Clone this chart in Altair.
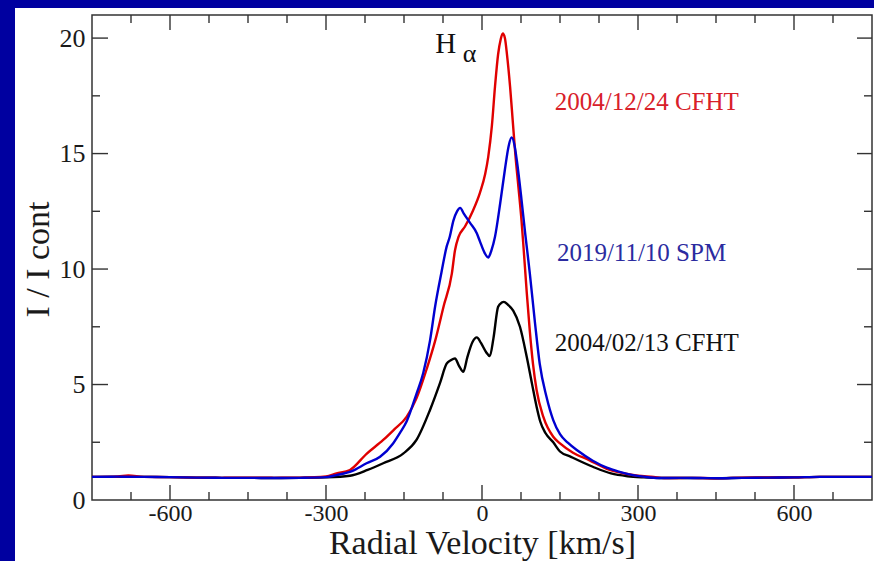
import altair as alt
import pandas as pd

# ---- data ----
red_v = [-750, -700, -680, -650, -600, -550, -500, -450, -400, -350, -300, -280, -254, -222, -190, -170, -145,
         -126, -106, -90, -74, -58, -52, -45, -33, -17, -4, 6, 12, 19, 25, 31, 36, 40, 44, 48, 54, 59, 64, 70,
         76, 80, 86, 92, 98, 105, 118, 137, 150, 175, 206, 240, 269, 300, 330, 350, 400, 450, 500, 550, 600,
         650, 700, 750]
red_i = [1.00, 1.02, 1.06, 1.00, 0.99, 0.97, 0.96, 0.97, 0.96, 0.97, 1.02, 1.15, 1.30, 2.00, 2.60, 3.03, 3.60,
         4.40, 5.70, 6.90, 8.37, 9.80, 10.80, 11.40, 11.83, 12.55, 13.30, 14.10, 14.86, 16.20, 17.90, 19.30,
         19.95, 20.20, 20.00, 19.30, 17.90, 16.45, 15.00, 13.56, 12.10, 10.90, 9.00, 7.30, 5.90, 4.76, 3.60,
         2.74, 2.45, 2.05, 1.73, 1.35, 1.17, 1.05, 1.00, 0.95, 0.96, 0.94, 0.97, 0.98, 0.98, 1.00, 1.00, 1.00]

blue_v = [-750, -700, -650, -600, -550, -500, -450, -400, -350, -300, -280, -250, -222, -196, -171, -158, -145,
          -126, -113, -100, -90, -78, -68, -62, -55, -48, -42, -35, -23, -10, -4, 5, 12, 18, 25, 35, 44, 51, 57,
          63, 67, 76, 83, 89, 92, 102, 111, 124, 137, 150, 165, 185, 213, 240, 263, 290, 311, 340, 380, 420,
          460, 500, 550, 600, 650, 700, 750]
blue_i = [1.00, 1.01, 1.00, 0.99, 0.97, 0.96, 0.96, 0.95, 0.96, 0.99, 1.08, 1.25, 1.59, 1.87, 2.45, 2.90, 3.40,
          4.60, 5.50, 6.90, 8.40, 9.85, 10.97, 11.40, 12.10, 12.50, 12.65, 12.40, 12.00, 11.55, 11.20, 10.70,
          10.50, 10.80, 11.40, 12.85, 14.30, 15.30, 15.70, 15.30, 14.70, 13.00, 11.55, 10.40, 9.80, 7.65, 5.90,
          4.47, 3.46, 2.85, 2.48, 2.12, 1.70, 1.40, 1.23, 1.08, 1.01, 0.95, 0.96, 0.95, 0.94, 0.96, 0.97, 0.98,
          1.00, 1.00, 1.00]

black_v = [-750, -700, -650, -600, -550, -500, -450, -400, -350, -300, -254, -220, -190, -151, -126, -100, -81,
           -68, -60, -52, -44, -36, -28, -18, -10, -2, 8, 15, 22, 31, 38, 42, 50, 60, 73, 86, 96, 105, 112,
           122, 137, 150, 171, 213, 248, 280, 310, 350, 400, 450, 500, 550, 600, 650, 700, 750]
black_i = [1.00, 1.00, 1.00, 0.99, 0.97, 0.96, 0.96, 0.95, 0.96, 0.98, 1.05, 1.30, 1.59, 2.02, 2.60, 3.90, 5.05,
           5.90, 6.05, 6.13, 5.80, 5.55, 6.20, 6.85, 7.04, 6.80, 6.40, 6.23, 7.00, 8.37, 8.55, 8.58, 8.45, 8.20,
           7.50, 6.20, 5.05, 4.04, 3.40, 2.90, 2.50, 2.10, 1.87, 1.44, 1.15, 1.03, 0.98, 0.95, 0.95, 0.94, 0.96,
           0.97, 0.98, 1.00, 1.00, 1.00]

series_names = ["2004/02/13 CFHT", "2004/12/24 CFHT", "2019/11/10 SPM"]
series_colors = ["#000000", "#e00000", "#0000d0"]

x_major = [-600, -300, 0, 300, 600]
x_minor = [-675, -525, -450, -375, -225, -150, -75, 75, 150, 225, 375, 450, 525, 675]
y_major = [5, 10, 15, 20]
y_minor = [2.5, 7.5, 12.5, 17.5]
y_labels = [0, 5, 10, 15, 20]

ann_text = ["H", "α", "2004/12/24 CFHT", "2019/11/10 SPM", "2004/02/13 CFHT"]
ann_x = [-90, -37, 140, 144, 140]
ann_y = [19.35, 18.96, 16.88, 10.35, 6.46]
ann_color = ["#111111", "#111111", "#d8202a", "#2b2ba0", "#111111"]
ann_size = [29, 26, 25, 25, 25]

# ---- build tables ----
rows = []
for name, vs, ys in [(series_names[0], black_v, black_i),
                     (series_names[1], red_v, red_i),
                     (series_names[2], blue_v, blue_i)]:
    for k, (v, i) in enumerate(zip(vs, ys)):
        rows.append({"v": v, "i": i, "s": name, "k": k})
df = pd.DataFrame(rows)

W, H = 780, 485
FONT = "Liberation Serif"
FRAME_BLUE = "#0000a0"
xs = alt.Scale(domain=[-750, 750], nice=False, zero=False)
ys_ = alt.Scale(domain=[0, 21], nice=False, zero=False)

one = pd.DataFrame({"a": [0]})
strip_left = alt.Chart(one).mark_rect(color=FRAME_BLUE).encode(
    x=alt.value(-92), x2=alt.value(-77), y=alt.value(-15), y2=alt.value(546))
strip_top = alt.Chart(one).mark_rect(color=FRAME_BLUE).encode(
    x=alt.value(-92), x2=alt.value(782), y=alt.value(-15), y2=alt.value(-7))

lines = alt.Chart(df).mark_line(strokeWidth=2.4, interpolate="monotone").encode(
    x=alt.X("v:Q", scale=xs,
            axis=alt.Axis(values=x_major, ticks=False, tickSize=0, domain=False, grid=False,
                          labelExpr="'' + datum.value", labelFont=FONT, labelFontSize=24,
                          labelColor="#1a1a1a", labelPadding=1, zindex=1,
                          title="Radial Velocity [km/s]", titleFont=FONT, titleFontSize=34,
                          titleFontWeight="normal", titleColor="#1a1a1a",
                          titleX=390, titleY=53, titleBaseline="alphabetic", titleAlign="center")),
    y=alt.Y("i:Q", scale=ys_,
            axis=alt.Axis(values=y_labels, ticks=False, tickSize=0, domain=False, grid=False,
                          labelFont=FONT, labelFontSize=26, labelColor="#1a1a1a", labelPadding=7,
                          zindex=1,
                          title="I / I cont", titleFont=FONT, titleFontSize=34,
                          titleFontWeight="normal", titleColor="#1a1a1a", titleAngle=270,
                          titleX=-44, titleY=244, titleBaseline="alphabetic", titleAlign="center")),
    color=alt.Color("s:N", scale=alt.Scale(domain=series_names, range=series_colors), legend=None),
    order=alt.Order("k:Q"),
)

TICK = "#333333"


def xticks(vals, y1, y2):
    return alt.Chart(pd.DataFrame({"v": vals})).mark_rule(color=TICK, strokeWidth=1.4).encode(
        x=alt.X("v:Q", scale=xs), y=alt.value(y1), y2=alt.value(y2))


def yticks(vals, x1, x2):
    return alt.Chart(pd.DataFrame({"i": vals})).mark_rule(color=TICK, strokeWidth=1.4).encode(
        y=alt.Y("i:Q", scale=ys_), x=alt.value(x1), x2=alt.value(x2))


tick_layers = [
    xticks(x_major, H, H - 15), xticks(x_minor, H, H - 8),
    xticks(x_major, 0, 15), xticks(x_minor, 0, 8),
    yticks(y_major, 0, 16), yticks(y_minor, 0, 8),
    yticks(y_major, W, W - 15), yticks(y_minor, W, W - 8),
]

ann = alt.Chart(pd.DataFrame({"t": ann_text, "v": ann_x, "i": ann_y, "c": ann_color, "z": ann_size})
                ).mark_text(align="left", baseline="alphabetic", font=FONT).encode(
    x=alt.X("v:Q", scale=xs),
    y=alt.Y("i:Q", scale=ys_),
    text="t:N",
    color=alt.Color("c:N", scale=None),
    size=alt.Size("z:Q", scale=None),
)

chart = alt.layer(strip_left, strip_top, lines, *tick_layers, ann).properties(
    width=W, height=H,
    autosize=alt.AutoSizeParams(type="none"),
    padding={"left": 92, "top": 15, "right": 2, "bottom": 61},
    background="white",
).configure_view(stroke="#333333", strokeWidth=1.5)

chart.save("out.html", embed_options={"renderer": "svg", "actions": False})
